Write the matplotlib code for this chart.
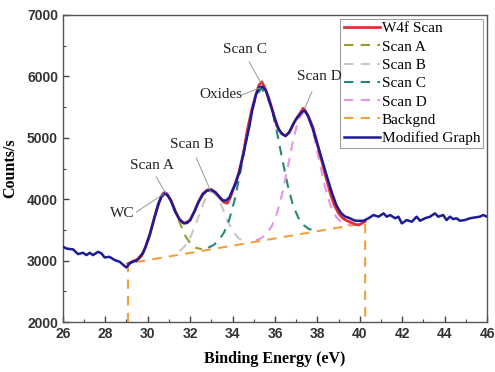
import matplotlib
matplotlib.use("Agg")
import matplotlib.pyplot as plt
from matplotlib.ticker import MultipleLocator

# ---------------- data ----------------
blue_x = [26.0, 26.2, 26.48, 26.72, 26.95, 27.11, 27.27, 27.42, 27.66, 27.82, 27.97, 28.2, 28.44,
          28.68, 28.91, 29.0, 29.15, 29.3, 29.46, 29.6, 29.77, 29.9, 30.1, 30.3, 30.5, 30.65,
          30.8, 30.95, 31.1, 31.3, 31.5, 31.7, 31.85, 32.0, 32.2, 32.4, 32.6, 32.8, 33.0, 33.2,
          33.4, 33.55, 33.7, 33.85, 34.0, 34.15, 34.31, 34.5, 34.62, 34.8, 34.93, 35.1, 35.25,
          35.4, 35.56, 35.7, 35.87, 36.0, 36.19, 36.35, 36.5, 36.65, 36.8, 36.97, 37.15, 37.3,
          37.4, 37.55, 37.75, 38.0, 38.22, 38.45, 38.69, 38.9, 39.1, 39.3, 39.47, 39.65, 39.79,
          40.0, 40.18, 40.41, 40.65, 40.88, 41.12, 41.27, 41.43, 41.67, 41.82, 41.98, 42.21,
          42.45, 42.68, 42.84, 43.07, 43.31, 43.54, 43.7, 43.93, 44.09, 44.25, 44.4, 44.56,
          44.72, 44.95, 45.19, 45.42, 45.66, 45.81, 46.0]
blue_y = [3226, 3195, 3184, 3107, 3129, 3091, 3129, 3091, 3145, 3118, 3053, 3063, 3010,
          2982, 2912, 2891, 2955, 2985, 2998, 3040, 3118, 3230, 3430, 3680, 3920, 4050,
          4100, 4060, 3970, 3800, 3670, 3610, 3612, 3660, 3800, 3960, 4080, 4140, 4150, 4110,
          4030, 3980, 3980, 4030, 4150, 4260, 4430, 4720, 4910, 5200, 5450, 5700, 5820,
          5830, 5780, 5640, 5450, 5300, 5130, 5060, 5030, 5080, 5180, 5290, 5370, 5430,
          5440, 5360, 5180, 4900, 4640, 4370, 4100, 3900, 3780, 3720, 3700, 3670, 3650,
          3650, 3650, 3690, 3743, 3716, 3770, 3716, 3743, 3690, 3716, 3607, 3661,
          3634, 3716, 3650, 3690, 3716, 3770, 3716, 3743, 3661, 3716, 3677, 3690,
          3650, 3661, 3690, 3704, 3716, 3743, 3716]

w4f_x = [29.07, 29.3, 29.5, 29.7, 29.9, 30.1, 30.3, 30.5, 30.7, 30.8, 30.9, 31.1, 31.3, 31.5,
         31.7, 31.85, 32.0, 32.2, 32.4, 32.6, 32.8, 33.0, 33.2, 33.4, 33.6, 33.75, 33.9, 34.1,
         34.3, 34.5, 34.7, 34.9, 35.1, 35.25, 35.38, 35.5, 35.7, 35.9, 36.1, 36.3, 36.5, 36.7,
         36.9, 37.1, 37.2, 37.33, 37.45, 37.6, 37.8, 38.0, 38.2, 38.4, 38.6, 38.8, 39.0, 39.2,
         39.4, 39.6, 39.8, 39.95, 40.1, 40.25]
w4f_y = [2950, 2990, 3020, 3080, 3220, 3420, 3680, 3920, 4080, 4110, 4090, 3980, 3800, 3670,
         3610, 3630, 3660, 3800, 3960, 4090, 4150, 4160, 4110, 4020, 3950, 3935, 4030, 4230,
         4440, 4730, 5130, 5450, 5700, 5860, 5910, 5830, 5650, 5430, 5180, 5070, 5030, 5100,
         5250, 5360, 5410, 5480, 5430, 5330, 5160, 4890, 4630, 4360, 4110, 3900, 3770, 3690,
         3650, 3620, 3590, 3580, 3610, 3640]

scanA_x = [29.55, 29.8, 30.05, 30.3, 30.55, 30.8, 31.05, 31.3, 31.55, 31.8, 32.05, 32.3, 32.55]
scanA_y = [3050, 3140, 3370, 3670, 3950, 4090, 4025, 3825, 3586, 3387, 3263, 3206, 3189]

scanB_x = [31.5, 31.75, 32.0, 32.25, 32.5, 32.75, 33.0, 33.25, 33.5, 33.75, 34.0, 34.25, 34.5, 34.75]
scanB_y = [3156, 3235, 3373, 3579, 3822, 4031, 4121, 4059, 3879, 3664, 3486, 3376, 3325, 3312]

scanC_x = [32.85, 33.1, 33.35, 33.6, 33.85, 34.1, 34.35, 34.6, 34.85, 35.1, 35.35, 35.6, 35.85,
           36.1, 36.35, 36.6, 36.85, 37.1, 37.35, 37.6, 37.85]
scanC_y = [3211, 3253, 3329, 3460, 3674, 3992, 4408, 4884, 5338, 5670, 5803, 5699, 5470,
           5080, 4640, 4230, 3900, 3700, 3580, 3515, 3494]

scanD_x = [35.1, 35.35, 35.6, 35.85, 36.1, 36.35, 36.6, 36.85, 37.1, 37.35, 37.6, 37.85, 38.1,
           38.35, 38.6, 38.85, 39.1, 39.35, 39.6]
scanD_y = [3330, 3366, 3435, 3561, 3778, 4103, 4519, 4953, 5289, 5426, 5318, 5010, 4604,
           4216, 3919, 3730, 3632, 3592, 3584]

bg_x = [29.07, 29.07, 40.25, 40.25]
bg_y = [2000, 2955, 3612, 2000]

# annotations: label, text position, leader start, leader end
ann_labels = ["Scan C", "Oxides", "Scan D", "Scan B", "Scan A", "WC"]
ann_text_xy = [(34.59, 6431), (33.46, 5698), (38.07, 5991), (32.10, 4883), (30.18, 4557), (28.82, 3776)]
ann_line_start = [(34.78, 6236), (34.45, 5698), (37.74, 5747), (32.29, 4672), (30.41, 4362), (29.47, 3792)]
ann_line_end = [(35.34, 5893), (35.30, 5812), (37.41, 5486), (32.95, 4150), (30.84, 4101), (30.74, 4085)]

x_ticks = [26, 28, 30, 32, 34, 36, 38, 40, 42, 44, 46]
y_ticks = [2000, 3000, 4000, 5000, 6000, 7000]

# ---------------- plot ----------------
fig = plt.figure(figsize=(4.95, 3.72), dpi=100)
ax = fig.add_axes([0.127, 0.134, 0.857, 0.826])

serif = "Liberation Serif"
sans = "Liberation Sans"

dash = (0, (4.5, 3.5))
ax.plot(scanA_x, scanA_y, color="#9a9a2e", lw=1.5, ls=dash, label="Scan A", zorder=2)
ax.plot(scanB_x, scanB_y, color="#c8c8c8", lw=1.5, ls=dash, label="Scan B", zorder=2)
ax.plot(scanC_x, scanC_y, color="#23877a", lw=1.5, ls=dash, label="Scan C", zorder=2)
ax.plot(scanD_x, scanD_y, color="#e495e4", lw=1.5, ls=dash, label="Scan D", zorder=2)
ax.plot(bg_x, bg_y, color="#f0a040", lw=1.5, ls=dash, label="Backgnd", zorder=2)
ax.plot(w4f_x, w4f_y, color="#e0303a", lw=2.0, label="W4f Scan", zorder=3)
ax.plot(blue_x, blue_y, color="#1c1c96", lw=1.8, label="Modified Graph", zorder=4)

for lab, txy, ls0, le in zip(ann_labels, ann_text_xy, ann_line_start, ann_line_end):
    ax.plot([ls0[0], le[0]], [ls0[1], le[1]], color="#999999", lw=0.7, zorder=5)
    ax.text(txy[0], txy[1], lab, ha="center", va="center", fontsize=11,
            family=serif, color="#222222", zorder=6)

ax.set_xlim(26, 46)
ax.set_ylim(2000, 7000)
ax.set_xticks(x_ticks)
ax.set_yticks(y_ticks)
ax.xaxis.set_minor_locator(MultipleLocator(1))
ax.yaxis.set_minor_locator(MultipleLocator(500))
ax.tick_params(which="both", direction="in", top=False, right=False, colors="#444444")
ax.tick_params(which="major", length=4, width=1)
ax.tick_params(which="minor", length=2.5, width=0.8)
for lbl in ax.get_xticklabels() + ax.get_yticklabels():
    lbl.set_family(sans)
    lbl.set_fontweight("bold")
    lbl.set_fontsize(10)
    lbl.set_color("#333333")
for sp in ax.spines.values():
    sp.set_color("#555555")
    sp.set_linewidth(1.0)

ax.set_xlabel("Binding Energy (eV)", family=serif, fontweight="bold", fontsize=11.5, labelpad=7)
ax.set_ylabel("Counts/s", family=serif, fontweight="bold", fontsize=11.5, labelpad=6)

handles, labels = ax.get_legend_handles_labels()
order = ["W4f Scan", "Scan A", "Scan B", "Scan C", "Scan D", "Backgnd", "Modified Graph"]
hmap = dict(zip(labels, handles))
leg = ax.legend([hmap[o] for o in order], order, loc="upper right", prop={"family": serif, "size": 11},
                frameon=True, fancybox=False, edgecolor="#888888", handlelength=2.4,
                handletextpad=0.1, labelspacing=0.3, borderpad=0.2, borderaxespad=0.25)
leg.get_frame().set_linewidth(0.8)

fig.savefig("out.png", dpi=100)
